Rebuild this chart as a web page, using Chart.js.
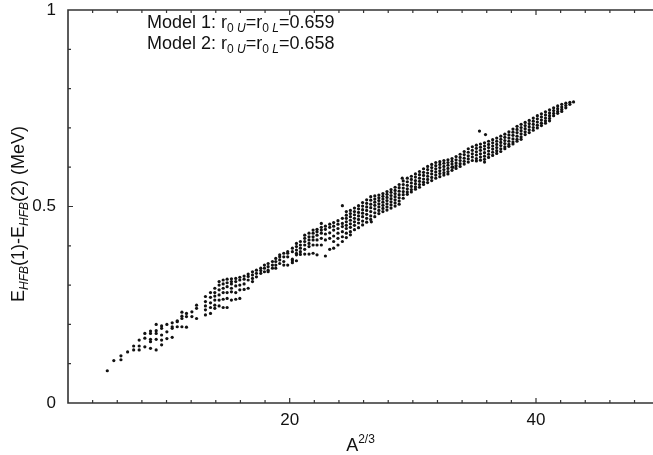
<!DOCTYPE html>
<html>
<head>
<meta charset="utf-8">
<script src="https://cdn.jsdelivr.net/npm/chart.js@4.4.1/dist/chart.umd.min.js"></script>
<style>
body{margin:0;background:#fff}
canvas{display:block}
</style>
</head>
<body>
<canvas id="chart" width="653" height="455"></canvas>
<script>
// columns: [A^(2/3), E_HFB(1)-E_HFB(2) values...]
const lowCols=[
 [5.19,0.082],[5.72,0.108],[6.30,0.120,0.110],[6.84,0.130],[7.33,0.145,0.135],
 [7.78,0.160,0.145,0.135],[8.24,0.177,0.165,0.143],[8.70,0.183,0.177,0.162,0.156,0.139],
 [9.16,0.200,0.184,0.177,0.162,0.135],[9.60,0.196,0.190,0.173,0.160,0.148],
 [10.03,0.200,0.181,0.164],[10.46,0.204,0.194,0.190,0.167],[10.87,0.209,0.207,0.194],
 [11.25,0.231,0.221,0.215,0.194],[11.62,0.228,0.220,0.193],[12.06,0.232,0.220],
 [12.44,0.249,0.241,0.215]
]
const midCols=[
 [13.16,0.271,0.258,0.247,0.237,0.224],[13.57,0.281,0.269,0.255,0.243,0.228],
 [13.92,0.292,0.281,0.272,0.262,0.249,0.241],[14.27,0.309,0.300,0.288,0.275,0.262,0.247],
 [14.60,0.313,0.303,0.292,0.281,0.264,0.243],[14.92,0.315,0.306,0.296,0.281,0.266,0.243],
 [15.27,0.316,0.309,0.303,0.292,0.283,0.262],[15.62,0.317,0.309,0.298,0.281,0.264],
 [15.95,0.320,0.313,0.300,0.288,0.266],[16.30,0.323,0.315,0.303,0.289],
 [16.63,0.328,0.322,0.313,0.292],[16.98,0.334,0.326,0.317,0.309],[17.30,0.338,0.330,0.321],
 [17.65,0.343,0.337,0.330],[17.95,0.351,0.343,0.334],[18.25,0.355,0.347,0.338,0.334],
 [18.60,0.360,0.351,0.343],[18.87,0.368,0.360,0.351,0.343],[19.19,0.377,0.372,0.364,0.355],
 [19.52,0.381,0.372,0.360,0.351],[19.84,0.385,0.381,0.372,0.351],
 [20.22,0.394,0.385,0.366,0.362,0.357],[20.55,0.406,0.398,0.389,0.381,0.377,0.362],
 [20.87,0.411,0.402,0.394,0.385,0.378],[21.22,0.427,0.419,0.411,0.402,0.391,0.379],
 [21.57,0.432,0.423,0.415,0.406,0.398,0.379],[21.90,0.440,0.432,0.423,0.415,0.402,0.381],
 [22.22,0.442,0.436,0.427,0.415,0.402,0.377],[22.57,0.457,0.447,0.440,0.432,0.419,0.402],
 [22.90,0.450,0.442,0.430,0.415,0.374],[23.25,0.455,0.447,0.433,0.419,0.391],
 [23.57,0.459,0.450,0.440,0.425,0.411,0.394],[23.92,0.464,0.455,0.444,0.432,0.419,0.402],
 [24.28,0.470,0.457,0.449,0.436,0.423,0.411]
]
const highCols=[
 [24.6,0.487,0.478,0.470,0.461,0.452,0.444,0.432,0.421],
 [24.93,0.490,0.482,0.474,0.465,0.456,0.447,0.436,0.428],
 [25.26,0.496,0.487,0.479,0.470,0.461,0.452,0.441],
 [25.59,0.502,0.494,0.485,0.476,0.467,0.458,0.446],
 [25.92,0.510,0.501,0.492,0.483,0.474,0.463,0.453],
 [26.25,0.517,0.508,0.499,0.490,0.480,0.470,0.460],
 [26.58,0.525,0.516,0.506,0.497,0.487,0.476,0.467],
 [26.91,0.527,0.519,0.511,0.503,0.494,0.484,0.474],
 [27.24,0.529,0.522,0.515,0.507,0.499,0.490,0.482],
 [27.57,0.533,0.526,0.519,0.511,0.503,0.495,0.487],
 [27.9,0.538,0.531,0.523,0.515,0.507,0.499,0.491],
 [28.23,0.543,0.536,0.528,0.520,0.512,0.504,0.496],
 [28.56,0.549,0.541,0.533,0.525,0.517,0.509,0.501],
 [28.89,0.556,0.548,0.539,0.530,0.522,0.514,0.506],
 [29.22,0.565,0.556,0.547,0.538,0.530,0.521],
 [29.55,0.572,0.563,0.554,0.545,0.537,0.531],
 [29.88,0.577,0.569,0.560,0.551,0.543,0.537],
 [30.21,0.583,0.575,0.566,0.558,0.550,0.544],
 [30.54,0.589,0.581,0.572,0.564,0.556,0.549],
 [30.87,0.596,0.587,0.579,0.570,0.562,0.556],
 [31.2,0.602,0.594,0.585,0.577,0.569,0.561],
 [31.53,0.607,0.599,0.591,0.583,0.574,0.566],
 [31.86,0.612,0.604,0.596,0.588,0.580,0.572],
 [32.19,0.614,0.607,0.599,0.591,0.584,0.576],
 [32.52,0.617,0.610,0.602,0.594,0.586,0.580],
 [32.85,0.619,0.612,0.605,0.597,0.589,0.583],
 [33.18,0.622,0.615,0.608,0.600,0.592],
 [33.51,0.627,0.619,0.611,0.604,0.597],
 [33.84,0.633,0.625,0.617,0.609,0.602],
 [34.17,0.640,0.632,0.623,0.615,0.608],
 [34.5,0.647,0.638,0.629,0.621,0.613],
 [34.83,0.652,0.643,0.634,0.626,0.617],
 [35.16,0.656,0.648,0.639,0.631,0.622,0.616],
 [35.49,0.659,0.651,0.643,0.634,0.626,0.618],
 [35.82,0.662,0.654,0.646,0.637,0.628,0.620,0.613],
 [36.15,0.666,0.658,0.650,0.641,0.633,0.625],
 [36.48,0.670,0.662,0.654,0.646,0.638,0.630],
 [36.81,0.674,0.666,0.658,0.650,0.642,0.635],
 [37.14,0.679,0.671,0.663,0.655,0.647,0.640],
 [37.47,0.684,0.676,0.668,0.660,0.652,0.647],
 [37.8,0.690,0.682,0.674,0.666,0.658,0.653],
 [38.13,0.697,0.689,0.681,0.672,0.664,0.659],
 [38.46,0.704,0.696,0.688,0.679,0.671,0.666],
 [38.79,0.709,0.701,0.693,0.685,0.677,0.671],
 [39.12,0.714,0.706,0.698,0.690,0.683],
 [39.45,0.719,0.711,0.703,0.695,0.688],
 [39.78,0.725,0.717,0.709,0.701,0.694],
 [40.11,0.731,0.723,0.715,0.707,0.700],
 [40.44,0.736,0.728,0.720,0.712,0.706],
 [40.77,0.741,0.733,0.725,0.718,0.712],
 [41.1,0.746,0.738,0.731,0.724,0.718],
 [41.43,0.751,0.744,0.737,0.731],
 [41.76,0.756,0.749,0.742,0.737],
 [42.09,0.760,0.753,0.747,0.742],
 [42.42,0.763,0.757,0.751],
 [42.75,0.765,0.760],
 [43.05,0.766]
]
const strays=[[24.28,0.502],[26.63,0.461],[29.14,0.572],[33.25,0.600],[35.41,0.692],[35.90,0.683]]

const xLabels=[20,40]
const yLabels=[0,0.5,1]
const xMinorStep=2
const yMinorStep=0.1
const models=[['1','0.659'],['2','0.658']]

function toPoints(cols){
  return cols.flatMap(c=>c.slice(1).map(v=>({x:c[0],y:v})))
}
const points=[...toPoints(lowCols),...toPoints(midCols),...toPoints(highCols),
  ...strays.map(p=>({x:p[0],y:p[1]}))]

const FONT='"Liberation Sans", Arial, Helvetica, sans-serif'
const INK='#111'

// text runs: [text, size, baseline shift, italic]
function runsWidth(ctx,runs){
  let w=0
  runs.forEach(r=>{ctx.font=(r[3]?'italic ':'')+r[1]+'px '+FONT;w+=ctx.measureText(r[0]).width})
  return w
}
function drawRuns(ctx,runs,x,y){
  let cx=x
  runs.forEach(r=>{
    ctx.font=(r[3]?'italic ':'')+r[1]+'px '+FONT
    ctx.fillText(r[0],cx,y+r[2])
    cx+=ctx.measureText(r[0]).width
  })
}

const framePlugin={
  id:'frame',
  afterDraw(chart){
    const {ctx,chartArea:a,scales:{x,y}}=chart
    ctx.save()
    ctx.strokeStyle='#333'
    ctx.lineWidth=1.6
    ctx.beginPath()
    ctx.moveTo(a.right+2,a.top);ctx.lineTo(a.left,a.top)
    ctx.lineTo(a.left,a.bottom);ctx.lineTo(a.right+2,a.bottom)
    ctx.stroke()
    ctx.lineWidth=1.2
    ctx.beginPath()
    for(let v=x.min+xMinorStep;v<x.max;v+=xMinorStep){
      const px=x.getPixelForValue(v)
      const len=xLabels.includes(v)?5:3
      ctx.moveTo(px,a.bottom);ctx.lineTo(px,a.bottom-len)
      ctx.moveTo(px,a.top);ctx.lineTo(px,a.top+len)
    }
    for(let i=1;i<10;i++){
      const v=Math.round(i*yMinorStep*10)/10
      const py=y.getPixelForValue(v)
      const len=yLabels.includes(v)?5:3
      ctx.moveTo(a.left,py);ctx.lineTo(a.left+len,py)
    }
    ctx.stroke()

    ctx.fillStyle=INK
    ctx.textBaseline='alphabetic'
    ctx.textAlign='left'
    // x title
    const xt=[['A',18,0,false],['2/3',12,-8,false]]
    drawRuns(ctx,xt,(a.left+a.right)/2-runsWidth(ctx,xt)/2,451)
    // y title
    const yt=[['E',18,0,false],['HFB',12,4,true],['(1)-E',18,0,false],['HFB',12,4,true],['(2) (MeV)',18,0,false]]
    ctx.translate(24,214)
    ctx.rotate(-Math.PI/2)
    drawRuns(ctx,yt,-runsWidth(ctx,yt)/2,0)
    ctx.restore()

    ctx.save()
    ctx.fillStyle=INK
    models.forEach((m,i)=>{
      const runs=[['Model '+m[0]+': r',18,0,false],['0 ',12,4,false],['U',12,4,true],
        ['=r',18,0,false],['0 ',12,4,false],['L',12,4,true],['='+m[1],18,0,false]]
      drawRuns(ctx,runs,147,28+i*21)
    })
    ctx.restore()
  }
}

new Chart(document.getElementById('chart').getContext('2d'),{
  type:'scatter',
  data:{datasets:[{
    data:points,
    pointRadius:1.6,
    pointBorderWidth:0,
    pointBackgroundColor:INK,
    pointHoverRadius:1.6
  }]},
  options:{
    responsive:false,
    animation:false,
    layout:{autoPadding:false,padding:{left:0,right:0,top:10,bottom:0}},
    plugins:{legend:{display:false},tooltip:{enabled:false}},
    scales:{
      x:{type:'linear',min:2,max:49.5,
        afterBuildTicks(s){s.ticks=xLabels.map(v=>({value:v}))},
        afterFit(s){s.height=52;s.paddingLeft=0;s.paddingRight=0},
        grid:{display:false,drawTicks:false},
        border:{display:false},
        ticks:{padding:7,color:INK,font:{family:FONT,size:17,lineHeight:1.18},callback:v=>String(v)}},
      y:{type:'linear',min:0,max:1,
        afterBuildTicks(s){s.ticks=yLabels.map(v=>({value:v}))},
        afterFit(s){s.width=68;s.paddingTop=0;s.paddingBottom=0},
        grid:{display:false,drawTicks:false},
        border:{display:false},
        ticks:{padding:12,color:INK,font:{family:FONT,size:17,lineHeight:1.18},callback:v=>String(v)}}
    }
  },
  plugins:[framePlugin]
})
</script>
</body>
</html>
